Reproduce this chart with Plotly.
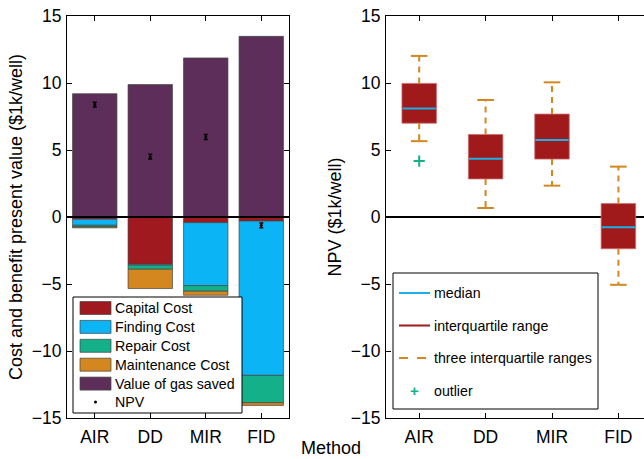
import plotly.graph_objects as go

methods = ["AIR", "DD", "MIR", "FID"]
# left panel: stacked cost/benefit (k$/well)
value_gas = [9.2, 9.88, 11.87, 13.48]
capital = [-0.17, -3.53, -0.42, -0.30]
finding = [-0.45, -0.07, -4.70, -11.52]
repair = [-0.12, -0.30, -0.42, -2.04]
maintenance = [-0.07, -1.44, -0.30, -0.20]
npv = [8.39, 4.50, 5.97, -0.62]
npv_err = [0.18, 0.18, 0.18, 0.18]

# right panel: NPV distribution
upper = [12.02, 8.73, 10.05, 3.76]
q3 = [9.97, 6.16, 7.68, 1.00]
median = [8.10, 4.34, 5.74, -0.77]
q1 = [7.00, 2.84, 4.32, -2.37]
lower = [5.66, 0.67, 2.34, -5.06]
outlier_x = ["AIR"]
outlier_y = [4.17]

C_CAP = "#A0191E"
C_FIND = "#0BB4F5"
C_REP = "#14B08A"
C_MAINT = "#D4861F"
C_GAS = "#5E2E5A"
C_MED = "#1AB0E8"
C_BOX = "#A0191B"
FONT = "Liberation Sans, Arial, sans-serif"
TICK_FS = 17.5
TITLE_FS = 18
LEG_FS = 14.2

W, H = 644, 459
ML, MR, MT, MB = 67, 0, 16, 41
PW, PH = W - ML - MR, H - MT - MB

def px(x):
    return (x - ML) / PW

def py(y):
    return (H - MB - y) / PH

xpos = [i + 1 for i in range(len(methods))]

fig = go.Figure()
edge = dict(color="#444444", width=0.7)
bw = 0.8
fig.add_trace(go.Bar(x=xpos, y=value_gas, width=bw, marker=dict(color=C_GAS, line=edge),
                     showlegend=False, xaxis="x", yaxis="y"))
# negative stacks
base = [0.0] * 4
for name, vals, col in [("Capital Cost", capital, C_CAP), ("Finding Cost", finding, C_FIND),
                        ("Repair Cost", repair, C_REP), ("Maintenance Cost", maintenance, C_MAINT)]:
    fig.add_trace(go.Bar(x=xpos, y=vals, base=base[:], width=bw,
                         marker=dict(color=col, line=edge), showlegend=False,
                         xaxis="x", yaxis="y"))
    base = [b + v for b, v in zip(base, vals)]

fig.add_trace(go.Scatter(x=xpos, y=npv, mode="markers",
                         marker=dict(color="black", size=3),
                         error_y=dict(type="data", array=npv_err, color="black", thickness=1.5, width=2),
                         showlegend=False, xaxis="x", yaxis="y"))

# right panel: boxes
fig.add_trace(go.Bar(x=xpos, y=[a - b for a, b in zip(q3, q1)], base=q1, width=0.52,
                     marker=dict(color=C_BOX, line=dict(color="#c9706f", width=0.8)),
                     showlegend=False, xaxis="x2", yaxis="y2"))
wx, wy, cx, cy, mx, my = [], [], [], [], [], []
for i, x in enumerate(xpos):
    wx += [x, x, None, x, x, None]
    wy += [q3[i], upper[i], None, q1[i], lower[i], None]
    cx += [x - 0.125, x + 0.125, None, x - 0.125, x + 0.125, None]
    cy += [upper[i], upper[i], None, lower[i], lower[i], None]
    mx += [x - 0.25, x + 0.25, None]
    my += [median[i], median[i], None]
fig.add_trace(go.Scatter(x=wx, y=wy, mode="lines", line=dict(color=C_MAINT, width=2, dash="6px,5px"),
                         showlegend=False, xaxis="x2", yaxis="y2"))
fig.add_trace(go.Scatter(x=cx, y=cy, mode="lines", line=dict(color=C_MAINT, width=2),
                         showlegend=False, xaxis="x2", yaxis="y2"))
fig.add_trace(go.Scatter(x=mx, y=my, mode="lines", line=dict(color=C_MED, width=2),
                         showlegend=False, xaxis="x2", yaxis="y2"))
fig.add_trace(go.Scatter(x=[methods.index(m) + 1 for m in outlier_x], y=outlier_y, mode="markers",
                         marker=dict(symbol="cross-thin", size=8, line=dict(color=C_REP, width=2)),
                         showlegend=False, xaxis="x2", yaxis="y2"))

axis_common = dict(showline=True, linecolor="black", linewidth=1, ticks="inside", ticklen=5,
                   tickcolor="black", showgrid=False,
                   tickfont=dict(family=FONT, size=TICK_FS, color="black"))
fig.update_layout(
    width=W, height=H, margin=dict(l=ML, r=MR, t=MT, b=MB),
    plot_bgcolor="white", paper_bgcolor="white", barmode="overlay",
    font=dict(family=FONT, color="black"),
    xaxis=dict(domain=[0, px(289)], range=[0.5, 4.5], tickvals=xpos, ticktext=methods,
               mirror="ticks", zeroline=False, ticklabelstandoff=3, **axis_common),
    yaxis=dict(range=[-15, 15], tickvals=[-15, -10, -5, 0, 5, 10, 15], mirror="ticks",
               zeroline=False, ticklabelstandoff=1,
               title=dict(text="Cost and benefit present value ($1k/well)",
                          font=dict(family=FONT, size=TITLE_FS), standoff=4), **axis_common),
    xaxis2=dict(domain=[px(386), 1], range=[0.5, 0.5 + (644 - 386) / 66.4], tickvals=xpos,
                ticktext=methods, mirror="ticks", zeroline=False, anchor="y2",
                ticklabelstandoff=3, **axis_common),
    yaxis2=dict(range=[-15, 15], tickvals=[-15, -10, -5, 0, 5, 10, 15], anchor="x2",
                zeroline=True, zerolinecolor="black", zerolinewidth=2, ticklabelstandoff=1,
                title=dict(text="NPV ($1k/well)", font=dict(family=FONT, size=TITLE_FS), standoff=4),
                **axis_common),
)

shapes = []
annotations = []
# zero line over left bars
shapes.append(dict(type="line", xref="x", yref="y", x0=0.5, x1=4.5, y0=0, y1=0,
                   line=dict(color="black", width=2), layer="above"))

# left legend
shapes.append(dict(type="rect", xref="paper", yref="paper", x0=px(73), x1=px(242), y0=py(413), y1=py(297),
                   line=dict(color="black", width=1), fillcolor="white", layer="above"))
leg_items = [("Capital Cost", C_CAP), ("Finding Cost", C_FIND), ("Repair Cost", C_REP),
             ("Maintenance Cost", C_MAINT), ("Value of gas saved", C_GAS)]
for k, (lab, col) in enumerate(leg_items):
    yc = 308 + k * 18.9
    shapes.append(dict(type="rect", xref="paper", yref="paper", x0=px(80), x1=px(111),
                       y0=py(yc + 6.5), y1=py(yc - 6.5), fillcolor=col,
                       line=dict(color="#444444", width=0.7), layer="above"))
    annotations.append(dict(x=px(113), y=py(yc), xref="paper", yref="paper", text=lab, showarrow=False,
                            xanchor="left", yanchor="middle", font=dict(family=FONT, size=LEG_FS, color="black")))
yc = 402
shapes.append(dict(type="circle", xref="paper", yref="paper", x0=px(94), x1=px(97), y0=py(yc + 1.5),
                   y1=py(yc - 1.5), fillcolor="black", line=dict(color="black", width=0), layer="above"))
annotations.append(dict(x=px(113), y=py(yc), xref="paper", yref="paper", text="NPV", showarrow=False,
                        xanchor="left", yanchor="middle", font=dict(family=FONT, size=LEG_FS, color="black")))

# right legend
shapes.append(dict(type="rect", xref="paper", yref="paper", x0=px(393), x1=px(598), y0=py(409), y1=py(273),
                   line=dict(color="black", width=1), fillcolor="white", layer="above"))
r_items = [("median", C_MED, "solid"), ("interquartile range", C_BOX, "solid"),
           ("three interquartile ranges", C_MAINT, "dash")]
for k, (lab, col, dash) in enumerate(r_items):
    yc = 293 + k * 32.5
    shapes.append(dict(type="line", xref="paper", yref="paper", x0=px(399), x1=px(430), y0=py(yc), y1=py(yc),
                       line=dict(color=col, width=2, dash=dash), layer="above"))
    annotations.append(dict(x=px(432), y=py(yc), xref="paper", yref="paper", text=lab, showarrow=False,
                            xanchor="left", yanchor="middle", font=dict(family=FONT, size=LEG_FS, color="black")))
yc = 293 + 3 * 32.5
annotations.append(dict(x=px(414), y=py(yc), xref="paper", yref="paper", text="<b>+</b>", showarrow=False,
                        xanchor="center", yanchor="middle", font=dict(family=FONT, size=15, color=C_REP)))
annotations.append(dict(x=px(432), y=py(yc), xref="paper", yref="paper", text="outlier", showarrow=False,
                        xanchor="left", yanchor="middle", font=dict(family=FONT, size=LEG_FS, color="black")))
# x label
annotations.append(dict(x=px(331), y=py(459), xref="paper", yref="paper", text="Method", showarrow=False,
                        xanchor="center", yanchor="bottom", borderpad=0,
                        font=dict(family=FONT, size=TITLE_FS, color="black")))

fig.update_layout(shapes=shapes, annotations=annotations)
fig.write_html("out.html")
